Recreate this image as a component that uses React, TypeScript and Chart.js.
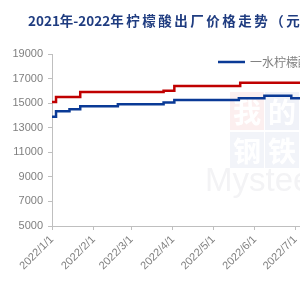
import React, { useEffect, useRef } from 'react';
import { Chart, registerables } from 'chart.js';

Chart.register(...registerables);

const titleText = '2021年-2022年柠檬酸出厂价格走势（元/吨）';
const seriesNames = ['一水柠檬酸', '无水柠檬酸'];
const seriesColors = ['#0A3A96', '#C00000'];

// change dates (step starts) and prices
const blueDates = ['2022-01-01', '2022-01-04', '2022-01-14', '2022-01-22', '2022-02-19', '2022-03-25', '2022-04-02', '2022-05-20', '2022-06-08', '2022-06-28', '2022-08-01'];
const blueValues = [13900, 14350, 14500, 14750, 14900, 15050, 15250, 15400, 15600, 15400, 15400];
const redDates = ['2022-01-01', '2022-01-04', '2022-01-22', '2022-03-25', '2022-04-02', '2022-05-21', '2022-08-01'];
const redValues = [15100, 15500, 15900, 16000, 16400, 16650, 16650];

const xTickDates = ['2022-01-01', '2022-02-01', '2022-03-01', '2022-04-01', '2022-05-01', '2022-06-01', '2022-07-01', '2022-08-01'];
const xTickLabels = ['2022/1/1', '2022/2/1', '2022/3/1', '2022/4/1', '2022/5/1', '2022/6/1', '2022/7/1', '2022/8/1'];
const yMin = 5000;
const yMax = 19000;
const yStep = 2000;

const watermarkChars = ['我', '的', '钢', '铁'];
const watermarkWord = 'Mysteel';

const BASE = Date.UTC(2022, 0, 1);
function dayOf(s: string): number {
  const [y, m, d] = s.split('-').map(Number);
  return Math.round((Date.UTC(y, m - 1, d) - BASE) / 86400000);
}

const decor = {
  id: 'decor',
  beforeDatasetsDraw(chart: any) {
    const ctx = chart.ctx as CanvasRenderingContext2D;
    ctx.save();
    const boxes = [
      { x: 230, y: 92, w: 34, h: 38, fill: '#FCEFEF' },
      { x: 265, y: 92, w: 34, h: 38, fill: '#F0F2F8' },
      { x: 230, y: 132, w: 34, h: 36, fill: '#F2F4F9' },
      { x: 265, y: 132, w: 34, h: 36, fill: '#F2F4F9' },
    ];
    boxes.forEach((b, i) => {
      ctx.fillStyle = b.fill;
      ctx.fillRect(b.x, b.y, b.w, b.h);
      ctx.fillStyle = '#FFFFFF';
      ctx.font = 'bold 28px "Noto Sans CJK SC"';
      ctx.textAlign = 'center';
      ctx.textBaseline = 'middle';
      ctx.fillText(watermarkChars[i], b.x + b.w / 2, b.y + b.h / 2 + 1);
    });
    ctx.fillStyle = '#F3F3F5';
    ctx.font = '33px "Liberation Sans"';
    ctx.textAlign = 'left';
    ctx.textBaseline = 'alphabetic';
    ctx.fillText(watermarkWord, 205, 191);
    ctx.restore();
  },
  afterDraw(chart: any) {
    const ctx = chart.ctx as CanvasRenderingContext2D;
    ctx.save();
    ctx.fillStyle = '#1F3C80';
    ctx.font = 'bold 13.5px "Noto Sans CJK SC"';
    ctx.textAlign = 'left';
    ctx.textBaseline = 'middle';
    const chars = Array.from(titleText);
    let tx = 28;
    chars.forEach((ch, i) => {
      ctx.fillText(ch, tx, 21);
      const next = chars[i + 1];
      const wide = ch.charCodeAt(0) >= 0x2e80 && next !== undefined && next.charCodeAt(0) >= 0x2e80;
      tx += ctx.measureText(ch).width + (wide ? 2.5 : 0);
    });

    let lx = 218;
    const ly = 62;
    ctx.font = '12px "Noto Sans CJK SC"';
    seriesNames.forEach((name, i) => {
      ctx.strokeStyle = seriesColors[i];
      ctx.lineWidth = 2.5;
      ctx.beginPath();
      ctx.moveTo(lx, ly);
      ctx.lineTo(lx + 27, ly);
      ctx.stroke();
      ctx.fillStyle = '#7F7F7F';
      ctx.fillText(name, lx + 32, ly);
      lx += 32 + ctx.measureText(name).width + 12;
    });
    ctx.restore();
  },
};

export default function App() {
  const ref = useRef<HTMLCanvasElement | null>(null);

  useEffect(() => {
    if (!ref.current) return;
    const tickVals = xTickDates.map(dayOf);
    const chart = new Chart(ref.current, {
      type: 'line',
      data: {
        datasets: [
          {
            label: seriesNames[1],
            data: redDates.map((d, i) => ({ x: dayOf(d), y: redValues[i] })),
            borderColor: seriesColors[1],
            borderWidth: 2.5,
            pointRadius: 0,
            stepped: true,
            fill: false,
          },
          {
            label: seriesNames[0],
            data: blueDates.map((d, i) => ({ x: dayOf(d), y: blueValues[i] })),
            borderColor: seriesColors[0],
            borderWidth: 2.5,
            pointRadius: 0,
            stepped: true,
            fill: false,
          },
        ],
      },
      options: {
        responsive: false,
        animation: false,
        events: [],
        layout: { padding: { top: 54, right: 13, left: 0, bottom: 0 } },
        plugins: {
          legend: { display: false },
          title: { display: false },
          tooltip: { enabled: false },
        },
        scales: {
          x: {
            type: 'linear',
            min: tickVals[0],
            max: tickVals[tickVals.length - 1],
            border: { display: true, color: '#BFBFBF', width: 1 },
            grid: { display: true, drawOnChartArea: false, drawTicks: true, tickLength: 4, color: '#BFBFBF' },
            ticks: {
              autoSkip: false,
              minRotation: 45,
              maxRotation: 45,
              padding: 3,
              color: '#7F7F7F',
              font: { family: 'Liberation Sans', size: 11 },
              callback: (_v: any, i: number) => xTickLabels[i],
            },
            afterBuildTicks: (scale: any) => {
              scale.ticks = tickVals.map((v) => ({ value: v }));
            },
            afterFit: (scale: any) => {
              scale.height = 74;
            },
          },
          y: {
            min: yMin,
            max: yMax,
            border: { display: true, color: '#BFBFBF', width: 1 },
            grid: { display: true, drawOnChartArea: false, drawTicks: true, tickLength: 4, color: '#BFBFBF' },
            ticks: {
              stepSize: yStep,
              padding: 5,
              color: '#7F7F7F',
              font: { family: 'Liberation Sans', size: 11 },
              callback: (v: any) => String(v),
            },
            afterFit: (scale: any) => {
              scale.width = 52;
            },
          },
        },
      },
      plugins: [decor],
    });
    return () => chart.destroy();
  }, []);

  return (
    <div style={{ position: 'absolute', left: 0, top: 0, width: 300, height: 300, overflow: 'hidden', background: '#fff' }}>
      <canvas ref={ref} width={350} height={300} style={{ width: 350, height: 300, display: 'block' }} />
    </div>
  );
}
